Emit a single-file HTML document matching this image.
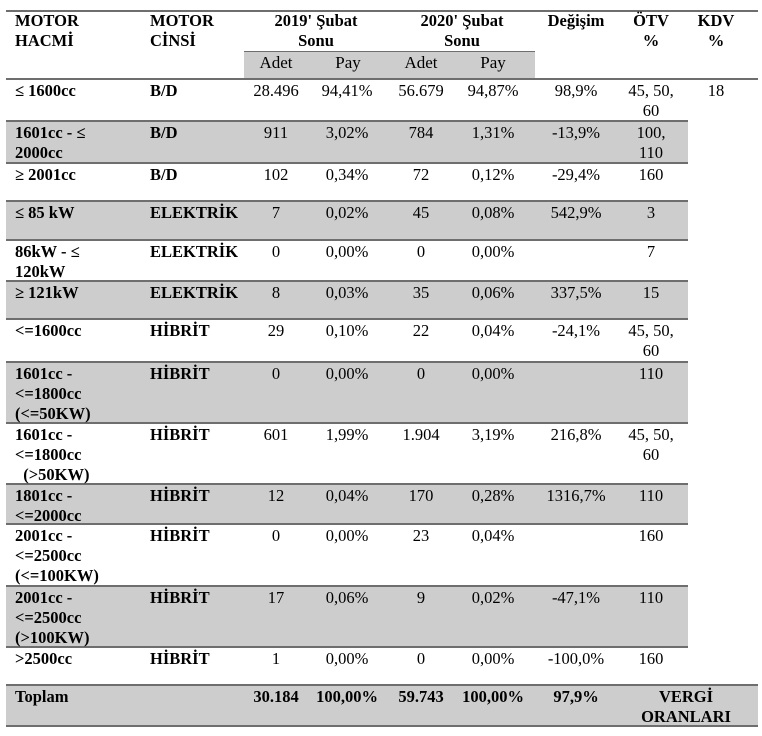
<!DOCTYPE html>
<html><head><meta charset="utf-8">
<style>
body{margin:0;width:762px;height:736px;background:#fff;position:relative;overflow:hidden;font-family:"Liberation Serif",serif;font-size:16.5px;color:#000;line-height:20px}
.g{position:absolute;background:#cdcdcd}
.l{position:absolute;height:1.5px;background:#6e6e6e}
.t{position:absolute;white-space:nowrap}
.b{font-weight:bold}
.c{text-align:center;transform:translateX(-50%)}
</style></head><body>
<div class="g" style="left:244px;top:52px;width:291px;height:27px"></div>
<div class="g" style="left:6px;top:121px;width:682px;height:42px"></div>
<div class="g" style="left:6px;top:201px;width:682px;height:39px"></div>
<div class="g" style="left:6px;top:281px;width:682px;height:38px"></div>
<div class="g" style="left:6px;top:362px;width:682px;height:61px"></div>
<div class="g" style="left:6px;top:484px;width:682px;height:40px"></div>
<div class="g" style="left:6px;top:586px;width:682px;height:61px"></div>
<div class="g" style="left:6px;top:685px;width:752px;height:41px"></div>
<div class="l" style="left:6px;top:10px;width:752px"></div>
<div class="l" style="left:244px;top:51px;width:291px;height:1px"></div>
<div class="l" style="left:6px;top:78px;width:752px"></div>
<div class="l" style="left:6px;top:120px;width:682px"></div>
<div class="l" style="left:6px;top:162px;width:682px"></div>
<div class="l" style="left:6px;top:200px;width:682px"></div>
<div class="l" style="left:6px;top:239px;width:682px"></div>
<div class="l" style="left:6px;top:280px;width:682px"></div>
<div class="l" style="left:6px;top:318px;width:682px"></div>
<div class="l" style="left:6px;top:361px;width:682px"></div>
<div class="l" style="left:6px;top:422px;width:682px"></div>
<div class="l" style="left:6px;top:483px;width:682px"></div>
<div class="l" style="left:6px;top:523px;width:682px"></div>
<div class="l" style="left:6px;top:585px;width:682px"></div>
<div class="l" style="left:6px;top:646px;width:682px"></div>
<div class="l" style="left:6px;top:684px;width:752px"></div>
<div class="l" style="left:6px;top:725px;width:752px"></div>
<div class="t b" style="left:15px;top:11px">MOTOR<br>HACMİ</div>
<div class="t b" style="left:150px;top:11px">MOTOR<br>CİNSİ</div>
<div class="t b c" style="left:316px;top:11px">2019' Şubat<br>Sonu</div>
<div class="t b c" style="left:462px;top:11px">2020' Şubat<br>Sonu</div>
<div class="t b c" style="left:576px;top:11px">Değişim</div>
<div class="t b c" style="left:651px;top:11px">ÖTV<br>%</div>
<div class="t b c" style="left:716px;top:11px">KDV<br>%</div>
<div class="t c" style="left:276px;top:53px;font-size:17px">Adet</div>
<div class="t c" style="left:348px;top:53px;font-size:17px">Pay</div>
<div class="t c" style="left:421px;top:53px;font-size:17px">Adet</div>
<div class="t c" style="left:493px;top:53px;font-size:17px">Pay</div>

<div class="t b" style="left:15px;top:81px">≤ 1600cc</div><div class="t b" style="left:150px;top:81px">B/D</div>
<div class="t c" style="left:276px;top:81px">28.496</div><div class="t c" style="left:347px;top:81px">94,41%</div>
<div class="t c" style="left:421px;top:81px">56.679</div><div class="t c" style="left:493px;top:81px">94,87%</div>
<div class="t c" style="left:576px;top:81px">98,9%</div><div class="t c" style="left:651px;top:81px">45, 50,<br>60</div>
<div class="t c" style="left:716px;top:81px">18</div>

<div class="t b" style="left:15px;top:123px">1601cc - ≤<br>2000cc</div><div class="t b" style="left:150px;top:123px">B/D</div>
<div class="t c" style="left:276px;top:123px">911</div><div class="t c" style="left:347px;top:123px">3,02%</div>
<div class="t c" style="left:421px;top:123px">784</div><div class="t c" style="left:493px;top:123px">1,31%</div>
<div class="t c" style="left:576px;top:123px">-13,9%</div><div class="t c" style="left:651px;top:123px">100,<br>110</div>

<div class="t b" style="left:15px;top:165px">≥ 2001cc</div><div class="t b" style="left:150px;top:165px">B/D</div>
<div class="t c" style="left:276px;top:165px">102</div><div class="t c" style="left:347px;top:165px">0,34%</div>
<div class="t c" style="left:421px;top:165px">72</div><div class="t c" style="left:493px;top:165px">0,12%</div>
<div class="t c" style="left:576px;top:165px">-29,4%</div><div class="t c" style="left:651px;top:165px">160</div>

<div class="t b" style="left:15px;top:203px">≤ 85 kW</div><div class="t b" style="left:150px;top:203px">ELEKTRİK</div>
<div class="t c" style="left:276px;top:203px">7</div><div class="t c" style="left:347px;top:203px">0,02%</div>
<div class="t c" style="left:421px;top:203px">45</div><div class="t c" style="left:493px;top:203px">0,08%</div>
<div class="t c" style="left:576px;top:203px">542,9%</div><div class="t c" style="left:651px;top:203px">3</div>

<div class="t b" style="left:15px;top:242px">86kW - ≤<br>120kW</div><div class="t b" style="left:150px;top:242px">ELEKTRİK</div>
<div class="t c" style="left:276px;top:242px">0</div><div class="t c" style="left:347px;top:242px">0,00%</div>
<div class="t c" style="left:421px;top:242px">0</div><div class="t c" style="left:493px;top:242px">0,00%</div>
<div class="t c" style="left:651px;top:242px">7</div>

<div class="t b" style="left:15px;top:283px">≥ 121kW</div><div class="t b" style="left:150px;top:283px">ELEKTRİK</div>
<div class="t c" style="left:276px;top:283px">8</div><div class="t c" style="left:347px;top:283px">0,03%</div>
<div class="t c" style="left:421px;top:283px">35</div><div class="t c" style="left:493px;top:283px">0,06%</div>
<div class="t c" style="left:576px;top:283px">337,5%</div><div class="t c" style="left:651px;top:283px">15</div>

<div class="t b" style="left:15px;top:321px">&lt;=1600cc</div><div class="t b" style="left:150px;top:321px">HİBRİT</div>
<div class="t c" style="left:276px;top:321px">29</div><div class="t c" style="left:347px;top:321px">0,10%</div>
<div class="t c" style="left:421px;top:321px">22</div><div class="t c" style="left:493px;top:321px">0,04%</div>
<div class="t c" style="left:576px;top:321px">-24,1%</div><div class="t c" style="left:651px;top:321px">45, 50,<br>60</div>

<div class="t b" style="left:15px;top:364px">1601cc -<br>&lt;=1800cc<br>(&lt;=50KW)</div><div class="t b" style="left:150px;top:364px">HİBRİT</div>
<div class="t c" style="left:276px;top:364px">0</div><div class="t c" style="left:347px;top:364px">0,00%</div>
<div class="t c" style="left:421px;top:364px">0</div><div class="t c" style="left:493px;top:364px">0,00%</div>
<div class="t c" style="left:651px;top:364px">110</div>

<div class="t b" style="left:15px;top:425px">1601cc -<br>&lt;=1800cc<br>&nbsp;&nbsp;(&gt;50KW)</div><div class="t b" style="left:150px;top:425px">HİBRİT</div>
<div class="t c" style="left:276px;top:425px">601</div><div class="t c" style="left:347px;top:425px">1,99%</div>
<div class="t c" style="left:421px;top:425px">1.904</div><div class="t c" style="left:493px;top:425px">3,19%</div>
<div class="t c" style="left:576px;top:425px">216,8%</div><div class="t c" style="left:651px;top:425px">45, 50,<br>60</div>

<div class="t b" style="left:15px;top:486px">1801cc -<br>&lt;=2000cc</div><div class="t b" style="left:150px;top:486px">HİBRİT</div>
<div class="t c" style="left:276px;top:486px">12</div><div class="t c" style="left:347px;top:486px">0,04%</div>
<div class="t c" style="left:421px;top:486px">170</div><div class="t c" style="left:493px;top:486px">0,28%</div>
<div class="t c" style="left:576px;top:486px">1316,7%</div><div class="t c" style="left:651px;top:486px">110</div>

<div class="t b" style="left:15px;top:526px">2001cc -<br>&lt;=2500cc<br>(&lt;=100KW)</div><div class="t b" style="left:150px;top:526px">HİBRİT</div>
<div class="t c" style="left:276px;top:526px">0</div><div class="t c" style="left:347px;top:526px">0,00%</div>
<div class="t c" style="left:421px;top:526px">23</div><div class="t c" style="left:493px;top:526px">0,04%</div>
<div class="t c" style="left:651px;top:526px">160</div>

<div class="t b" style="left:15px;top:588px">2001cc -<br>&lt;=2500cc<br>(&gt;100KW)</div><div class="t b" style="left:150px;top:588px">HİBRİT</div>
<div class="t c" style="left:276px;top:588px">17</div><div class="t c" style="left:347px;top:588px">0,06%</div>
<div class="t c" style="left:421px;top:588px">9</div><div class="t c" style="left:493px;top:588px">0,02%</div>
<div class="t c" style="left:576px;top:588px">-47,1%</div><div class="t c" style="left:651px;top:588px">110</div>

<div class="t b" style="left:15px;top:649px">&gt;2500cc</div><div class="t b" style="left:150px;top:649px">HİBRİT</div>
<div class="t c" style="left:276px;top:649px">1</div><div class="t c" style="left:347px;top:649px">0,00%</div>
<div class="t c" style="left:421px;top:649px">0</div><div class="t c" style="left:493px;top:649px">0,00%</div>
<div class="t c" style="left:576px;top:649px">-100,0%</div><div class="t c" style="left:651px;top:649px">160</div>

<div class="t b" style="left:15px;top:687px">Toplam</div>
<div class="t b c" style="left:276px;top:687px">30.184</div><div class="t b c" style="left:347px;top:687px">100,00%</div>
<div class="t b c" style="left:421px;top:687px">59.743</div><div class="t b c" style="left:493px;top:687px">100,00%</div>
<div class="t b c" style="left:576px;top:687px">97,9%</div>
<div class="t b c" style="left:686px;top:687px">VERGİ<br>ORANLARI</div>
</body></html>
